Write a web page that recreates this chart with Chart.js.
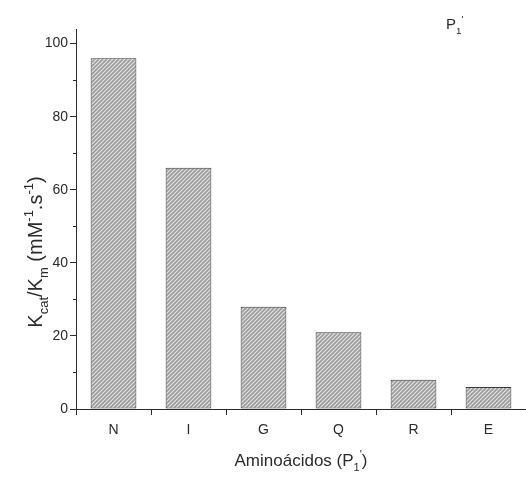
<!DOCTYPE html>
<html>
<head>
<meta charset="utf-8">
<script src="https://cdn.jsdelivr.net/npm/chart.js@4.4.1/dist/chart.umd.min.js"></script>
<style>
  html, body { margin: 0; padding: 0; background: #fff; }
  canvas { display: block; }
</style>
</head>
<body>
<canvas id="bar-chart" width="526" height="477"></canvas>
<script>
var aminoacidos = ["N", "I", "G", "Q", "R", "E"];
var kcatKm = [96, 66, 28, 21, 8, 6];
var yTicks = [0, 20, 40, 60, 80, 100];
var yMinor = [10, 30, 50, 70, 90];

var FONT = "'Liberation Sans', Arial, sans-serif";
var INK = "#2b2b2b";

// diagonal hatch fill for the bars (/ / /)
function hatch() {
  var c = document.createElement("canvas");
  c.width = 4; c.height = 4;
  var g = c.getContext("2d");
  g.fillStyle = "#9c9c9c";
  g.fillRect(0, 0, 4, 4);
  g.strokeStyle = "#e2e2e2";
  g.lineWidth = 1.2;
  g.beginPath();
  g.moveTo(-1, 5); g.lineTo(5, -1);
  g.moveTo(-1, 1); g.lineTo(1, -1);
  g.moveTo(3, 5); g.lineTo(5, 3);
  g.stroke();
  return g.createPattern(c, "repeat");
}

// text with sub/superscript pieces: [text, "sub"|"sup"|null]
function runsWidth(ctx, runs, size) {
  var w = 0;
  runs.forEach(function (r) {
    ctx.font = (r[1] ? size * 0.65 : size) + "px " + FONT;
    w += ctx.measureText(r[0]).width;
  });
  return w;
}
function drawRuns(ctx, runs, x, y, size) {
  runs.forEach(function (r) {
    var s = r[1] ? size * 0.65 : size;
    var dy = r[1] === "sub" ? size * 0.3 : (r[1] === "sup" ? -size * 0.45 : 0);
    ctx.font = s + "px " + FONT;
    ctx.fillText(r[0], x, y + dy);
    x += ctx.measureText(r[0]).width;
  });
}

var extras = {
  id: "extras",
  afterDraw: function (chart) {
    var ctx = chart.ctx;
    var xs = chart.scales.x, ys = chart.scales.y;
    ctx.save();
    ctx.strokeStyle = INK;
    ctx.lineWidth = 1;
    ctx.beginPath();
    yMinor.forEach(function (v) {
      var py = Math.round(ys.getPixelForValue(v)) + 0.5;
      ctx.moveTo(xs.left - 3, py); ctx.lineTo(xs.left, py);
    });
    for (var i = 0; i < aminoacidos.length - 1; i++) {
      var px = Math.round((xs.getPixelForValue(i) + xs.getPixelForValue(i + 1)) / 2) + 0.5;
      ctx.moveTo(px, ys.bottom); ctx.lineTo(px, ys.bottom + 3);
    }
    ctx.stroke();

    ctx.fillStyle = INK;
    ctx.textBaseline = "alphabetic";
    ctx.textAlign = "left";

    // x axis title
    var xt = [["Aminoácidos (P", null], ["1", "sub"], ["'", "sup"], [")", null]];
    var w = runsWidth(ctx, xt, 17);
    drawRuns(ctx, xt, (xs.left + xs.right) / 2 - w / 2, 466, 17);

    // y axis title
    var yt = [["K", null], ["cat", "sub"], ["/K", null], ["m", "sub"], [" (mM", null],
              ["-1", "sup"], [".s", null], ["-1", "sup"], [")", null]];
    ctx.translate(42, 252);
    ctx.rotate(-Math.PI / 2);
    w = runsWidth(ctx, yt, 20);
    drawRuns(ctx, yt, -w / 2, 0, 20);
    ctx.setTransform(1, 0, 0, 1, 0, 0);

    // panel label
    drawRuns(ctx, [["P", null], ["1", "sub"], ["'", "sup"]], 446, 29, 15);
    ctx.restore();
  }
};

var ctx = document.getElementById("bar-chart");
var barChart = new Chart(ctx, {
  type: "bar",
  data: {
    labels: aminoacidos,
    datasets: [
      {
        data: kcatKm,
        backgroundColor: hatch(),
        borderColor: "#3a3a3a",
        borderWidth: 1,
        borderSkipped: false,
        barPercentage: 0.61,
        categoryPercentage: 1
      }
    ]
  },
  options: {
    responsive: false,
    animation: false,
    devicePixelRatio: 1,
    layout: { padding: { top: 29, right: 0, left: 0, bottom: 0 } },
    plugins: { legend: { display: false }, tooltip: { enabled: false } },
    scales: {
      x: {
        grid: { drawOnChartArea: false, color: INK, tickLength: 6 },
        border: { color: INK, width: 1 },
        ticks: { color: INK, font: { family: FONT, size: 14 }, padding: 7 },
        afterFit: function (s) { s.height = 68; }
      },
      y: {
        min: 0,
        max: 104,
        grid: { drawOnChartArea: false, color: INK, tickLength: 6 },
        border: { color: INK, width: 1 },
        ticks: {
          includeBounds: false,
          stepSize: 20,
          color: INK,
          font: { family: FONT, size: 14 },
          padding: 2
        },
        afterBuildTicks: function (s) { s.ticks = yTicks.map(function (v) { return { value: v }; }); },
        afterFit: function (s) { s.width = 76; }
      }
    }
  },
  plugins: [extras]
});
</script>
</body>
</html>
